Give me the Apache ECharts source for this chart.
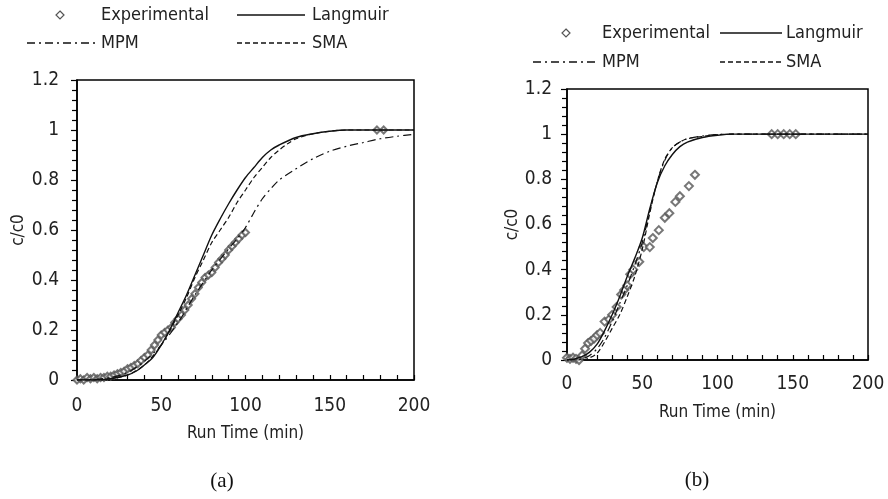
<!DOCTYPE html>
<html>
<head>
<meta charset="utf-8">
<script src="https://cdn.jsdelivr.net/npm/echarts@6/dist/echarts.min.js"></script>
<style>
  html, body { margin: 0; padding: 0; background: #fff; }
  #chart { width: 888px; height: 499px; }
</style>
</head>
<body>
<div id="chart"></div>
<script>
// ---- data (a) ----
var expA = [[0,0],[2,0.005],[4,0],[6,0.01],[8,0.005],[10,0.01],[12,0.005],[14,0.01],[16,0.01],[18,0.015],[20,0.015],
  [22,0.02],[24,0.025],[26,0.03],[28,0.035],[30,0.045],[32,0.05],[34,0.058],[36,0.065],[38,0.078],[40,0.09],
  [42,0.1],[44,0.12],[46,0.14],[48,0.16],[50,0.18],[52,0.19],[54,0.2],[56,0.21],[58,0.23],[60,0.245],
  [62,0.26],[64,0.28],[66,0.3],[68,0.325],[70,0.345],[72,0.37],[74,0.39],[76,0.41],[78,0.42],[80,0.43],
  [82,0.45],[84,0.47],[86,0.485],[88,0.5],[90,0.52],[92,0.535],[94,0.55],[96,0.565],[98,0.58],[100,0.59],
  [178,1.0],[182,1.0]];
var langA = [[0,0],[10,0],[20,0.005],[30,0.02],[35,0.035],[40,0.06],[45,0.09],[50,0.14],[55,0.2],[60,0.27],
  [65,0.34],[70,0.42],[75,0.5],[80,0.58],[85,0.645],[90,0.705],[95,0.76],[100,0.81],[105,0.85],[110,0.89],
  [115,0.92],[120,0.94],[130,0.97],[140,0.985],[150,0.995],[160,1],[200,1]];
var mpmA = [[0,0],[10,0.002],[20,0.01],[30,0.03],[40,0.075],[50,0.14],[60,0.23],[70,0.34],[80,0.44],[90,0.525],
  [95,0.565],[100,0.61],[105,0.67],[110,0.725],[115,0.765],[120,0.8],[130,0.845],[140,0.885],[150,0.915],[160,0.935],
  [170,0.95],[180,0.965],[190,0.975],[200,0.983]];
var smaA = [[0,0],[10,0],[20,0.005],[30,0.02],[40,0.06],[50,0.14],[60,0.26],[65,0.33],[70,0.41],[75,0.48],
  [80,0.55],[85,0.6],[90,0.65],[95,0.71],[100,0.76],[105,0.81],[110,0.85],[115,0.89],[120,0.92],[125,0.945],
  [130,0.965],[140,0.985],[150,0.995],[160,1],[200,1]];

// ---- data (b) ----
var expB = [[0,0.01],[2,0.005],[4,0.01],[6,0.005],[8,0],[10,0.02],[12,0.05],[14,0.075],[16,0.085],[18,0.095],
  [20,0.11],[22,0.12],[25,0.17],[28,0.18],[30,0.2],[33,0.235],[36,0.29],[38,0.31],[40,0.33],[42,0.38],
  [44,0.4],[48,0.435],[51,0.5],[55,0.5],[57,0.54],[61,0.575],[65,0.63],[68,0.65],[72,0.7],[75,0.725],
  [81,0.77],[85,0.82],[136,1],[140,1],[144,1],[148,1],[152,1]];
var langB = [[0,0],[5,0.005],[10,0.015],[15,0.035],[20,0.07],[25,0.13],[30,0.2],[35,0.28],[40,0.37],[45,0.45],
  [50,0.54],[55,0.67],[60,0.785],[65,0.86],[70,0.91],[75,0.945],[80,0.965],[90,0.985],[100,0.995],[110,1],[200,1]];
var mpmB = [[0,0],[10,0.005],[15,0.02],[20,0.05],[25,0.1],[30,0.17],[35,0.25],[40,0.33],[45,0.42],[50,0.52],
  [55,0.66],[60,0.79],[65,0.885],[70,0.94],[75,0.965],[80,0.98],[90,0.992],[100,0.998],[110,1],[200,1]];
var smaB = [[0,0],[10,0],[15,0.01],[20,0.03],[25,0.08],[30,0.14],[35,0.2],[40,0.28],[45,0.37],[50,0.49],
  [55,0.65],[60,0.79],[65,0.89],[70,0.94],[75,0.965],[80,0.98],[90,0.99],[100,0.998],[110,1],[200,1]];

var xTicks = [0, 50, 100, 150, 200];
var yTicks = [0, 0.2, 0.4, 0.6, 0.8, 1, 1.2];

var FONT = "'Liberation Sans Narrow', 'DejaVu Sans Condensed', sans-serif";
var TXT = '#222';

function xAx(gi, nameGap, margin) {
  return {
    type: 'value', gridIndex: gi, min: xTicks[0], max: xTicks[xTicks.length - 1], interval: 50,
    name: 'Run Time (min)', nameLocation: 'middle', nameGap: nameGap,
    nameTextStyle: { fontFamily: FONT, fontSize: 17, color: TXT },
    axisLine: { lineStyle: { color: '#000', width: 1.5 } },
    axisTick: { inside: true, length: 5, lineStyle: { color: '#000', width: 1.2 } },
    minorTick: { show: true, splitNumber: 5, length: 5, lineStyle: { color: '#000', width: 1.2 } },
    axisLabel: { fontFamily: FONT, fontSize: 19, color: TXT, margin: margin },
    splitLine: { show: false }
  };
}
function yAx(gi, nameGap, margin) {
  return {
    type: 'value', gridIndex: gi, min: yTicks[0], max: yTicks[yTicks.length - 1], interval: 0.2,
    name: 'c/c0', nameLocation: 'middle', nameGap: nameGap, nameRotate: 90,
    nameTextStyle: { fontFamily: FONT, fontSize: 17, color: TXT },
    axisLine: { lineStyle: { color: '#000', width: 1.5 } },
    axisTick: { inside: false, length: 6, lineStyle: { color: '#000', width: 1.2 } },
    minorTick: { show: true, splitNumber: 5, length: 5, lineStyle: { color: '#000', width: 1.2 } },
    axisLabel: { fontFamily: FONT, fontSize: 19, color: TXT, margin: margin },
    splitLine: { show: false }
  };
}
function lineS(name, data, gi, dash, w) {
  return {
    name: name, type: 'line', xAxisIndex: gi, yAxisIndex: gi, data: data,
    smooth: 0.3, showSymbol: false, silent: true,
    lineStyle: { color: '#111', width: w || 1.2, type: dash || 'solid' }
  };
}
function expS(data, gi, size) {
  return {
    name: 'Experimental', type: 'scatter', xAxisIndex: gi, yAxisIndex: gi, data: data,
    symbol: 'emptyDiamond', symbolSize: size,
    itemStyle: { color: '#555', borderColor: '#555', borderWidth: 1 }
  };
}

var MPM_DASH = [8, 4, 2, 4];
var SMA_DASH = [5, 3];

// legend drawn by hand: icon + label
function legend(y0, y1, markX, lineA, lineB, txtA, txtB) {
  var t = { fontFamily: FONT, fontSize: 18, fill: TXT, textVerticalAlign: 'middle' };
  var ls = { stroke: '#111', lineWidth: 1.3 };
  return [
    { type: 'polygon', shape: { points: [[markX, y0 - 4], [markX + 4, y0], [markX, y0 + 4], [markX - 4, y0]] },
      style: { fill: 'none', stroke: '#555', lineWidth: 1.2 } },
    { type: 'text', x: txtA, y: y0, style: Object.assign({ text: 'Experimental' }, t) },
    { type: 'line', shape: { x1: lineB[0], y1: y0, x2: lineB[1], y2: y0 }, style: Object.assign({}, ls) },
    { type: 'text', x: txtB, y: y0, style: Object.assign({ text: 'Langmuir' }, t) },
    { type: 'line', shape: { x1: lineA[0], y1: y1, x2: lineA[1], y2: y1 }, style: Object.assign({ lineDash: MPM_DASH }, ls) },
    { type: 'text', x: txtA, y: y1, style: Object.assign({ text: 'MPM' }, t) },
    { type: 'line', shape: { x1: lineB[0], y1: y1, x2: lineB[1], y2: y1 }, style: Object.assign({ lineDash: SMA_DASH }, ls) },
    { type: 'text', x: txtB, y: y1, style: Object.assign({ text: 'SMA' }, t) }
  ];
}

var capStyle = { fontFamily: "'Liberation Serif', 'DejaVu Serif', serif", fontSize: 21, fill: '#111',
  textAlign: 'center', textVerticalAlign: 'middle' };

var myChart = echarts.init(document.getElementById('chart'), null, { renderer: 'canvas' });
var option = {
  backgroundColor: '#fff',
  animation: false,
  grid: [
    { left: 77, top: 80, width: 337, height: 300, show: true, borderColor: '#000', borderWidth: 1.5, backgroundColor: 'transparent' },
    { left: 567, top: 89, width: 301, height: 271, show: true, borderColor: '#000', borderWidth: 1.5, backgroundColor: 'transparent' }
  ],
  xAxis: [xAx(0, 45, 17), xAx(1, 44, 15)],
  yAxis: [yAx(0, 50, 18), yAx(1, 44, 15)],
  series: [
    expS(expA, 0, 7),
    lineS('Langmuir', langA, 0, 'solid', 1.4),
    lineS('MPM', mpmA, 0, MPM_DASH, 1.2),
    lineS('SMA', smaA, 0, SMA_DASH, 1.2),
    expS(expB, 1, 8),
    lineS('Langmuir', langB, 1, 'solid', 1.4),
    lineS('MPM', mpmB, 1, MPM_DASH, 1.2),
    lineS('SMA', smaB, 1, SMA_DASH, 1.2)
  ],
  graphic: legend(15, 43, 60, [27, 97], [237, 305], 101, 312)
    .concat(legend(33, 62, 566, [533, 596], [720, 782], 602, 786))
    .concat([
      { type: 'text', x: 222, y: 481, style: Object.assign({ text: '(a)' }, capStyle) },
      { type: 'text', x: 697, y: 480, style: Object.assign({ text: '(b)' }, capStyle) }
    ])
};
window.onresize = myChart.resize;
myChart.setOption(option);
</script>
</body>
</html>
